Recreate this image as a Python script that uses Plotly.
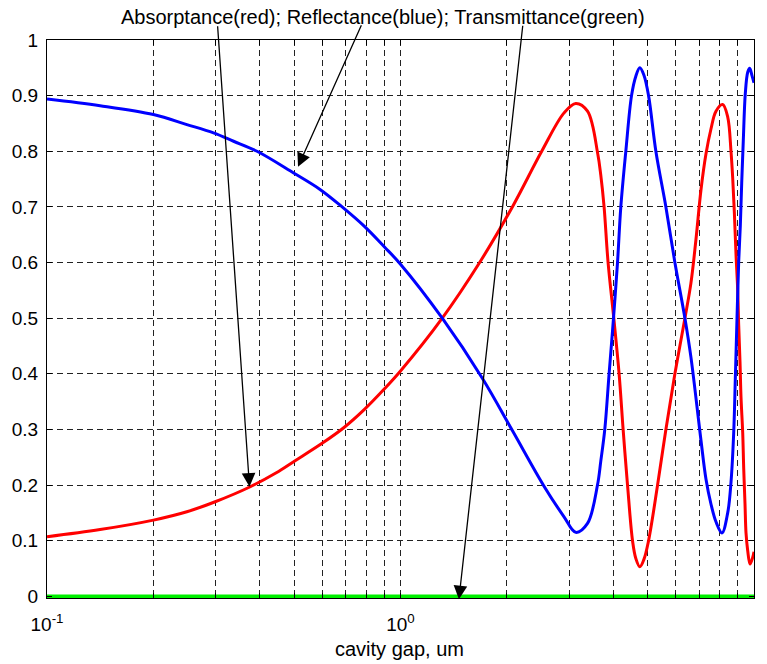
import math
import plotly.graph_objects as go

# ---- data ----
refl_gap = [0.1000, 0.1413, 0.2000, 0.2487, 0.2958, 0.3371, 0.3927, 0.4985, 0.5934, 0.6837,
            0.7907, 0.9009, 1.0000, 1.3126, 1.7041, 2.0724, 2.5466, 2.9013, 3.1315, 3.3808,
            3.6077, 3.6862, 3.7836, 3.8912, 4.0045, 4.1104, 4.2000, 4.3392, 4.5036, 4.6317,
            4.7541, 4.8798, 5.0315, 5.2773, 5.6333, 5.9734, 6.3764, 6.6310, 7.0777, 7.3124,
            7.5551, 7.8058, 8.1175, 8.4251, 8.6084, 8.7613, 8.8533, 8.9519, 9.0517, 9.1466,
            9.2305, 9.3273, 9.4497, 9.5988, 9.7248, 9.8703, 10.000]
refl = [0.894, 0.882, 0.866, 0.848, 0.833, 0.818, 0.800, 0.761, 0.731, 0.700,
        0.665, 0.628, 0.597, 0.500, 0.392, 0.298, 0.198, 0.143, 0.115, 0.131,
        0.200, 0.243, 0.300, 0.400, 0.500, 0.600, 0.700, 0.800, 0.900, 0.935,
        0.950, 0.937, 0.900, 0.800, 0.700, 0.600, 0.500, 0.430, 0.281, 0.211,
        0.166, 0.134, 0.114, 0.150, 0.205, 0.294, 0.390, 0.499, 0.602, 0.666,
        0.743, 0.820, 0.904, 0.942, 0.949, 0.936, 0.923]

abs_gap = [0.1000, 0.1413, 0.2000, 0.2487, 0.2991, 0.3759, 0.4453, 0.4985, 0.6001, 0.6909,
           0.7907, 0.9009, 1.0000, 1.3126, 1.6744, 2.0724, 2.5087, 2.9013, 3.1315, 3.3808,
           3.6148, 3.6862, 3.7664, 3.8659, 4.0124, 4.1535, 4.2635, 4.3876, 4.5330, 4.6317,
           4.7541, 4.8798, 5.0315, 5.3362, 5.6333, 5.9734, 6.3764, 6.6310, 6.8507, 7.0777,
           7.3124, 7.5551, 7.8058, 8.1545, 8.4251, 8.6084, 8.7044, 8.7956, 8.8937, 8.9928,
           9.0517, 9.1287, 9.1884, 9.2909, 9.3517, 9.4313, 9.4931, 9.5988, 9.7439, 9.9156,
           10.000]
absorb = [0.107, 0.120, 0.137, 0.152, 0.170, 0.197, 0.222, 0.242, 0.275, 0.303,
          0.336, 0.373, 0.405, 0.500, 0.600, 0.700, 0.800, 0.869, 0.886, 0.872,
          0.795, 0.757, 0.700, 0.600, 0.500, 0.400, 0.300, 0.200, 0.100, 0.068,
          0.053, 0.066, 0.100, 0.200, 0.300, 0.400, 0.500, 0.563, 0.641, 0.730,
          0.795, 0.840, 0.872, 0.884, 0.862, 0.800, 0.752, 0.692, 0.615, 0.551,
          0.487, 0.422, 0.358, 0.294, 0.230, 0.166, 0.114, 0.082, 0.058, 0.070,
          0.080]

trans_gap = [0.1, 10.0]
trans = [0.0, 0.0]

x_tick_vals = [0.1, 0.2, 0.3, 0.4, 0.5, 0.6, 0.7, 0.8, 0.9,
               1, 2, 3, 4, 5, 6, 7, 8, 9, 10]
x_tick_text = ["10<sup>-1</sup>", "", "", "", "", "", "", "", "",
               "10<sup>0</sup>", "", "", "", "", "", "", "", "", "10<sup>1</sup>"]
y_tick_vals = [0, 0.1, 0.2, 0.3, 0.4, 0.5, 0.6, 0.7, 0.8, 0.9, 1]
y_tick_text = ["0", "0.1", "0.2", "0.3", "0.4", "0.5", "0.6", "0.7", "0.8", "0.9", "1"]

title_text = "Absorptance(red); Reflectance(blue); Transmittance(green)"
x_title = "cavity gap, um"

FONT = "Liberation Sans, Arial, Helvetica, sans-serif"

fig = go.Figure()
fig.add_trace(go.Scatter(x=abs_gap, y=absorb, mode="lines",
                         line=dict(color="#ff0000", width=3, shape="spline", smoothing=1.0),
                         showlegend=False))
fig.add_trace(go.Scatter(x=refl_gap, y=refl, mode="lines",
                         line=dict(color="#0000ff", width=3, shape="spline", smoothing=1.0),
                         showlegend=False))
fig.add_trace(go.Scatter(x=trans_gap, y=trans, mode="lines",
                         line=dict(color="#00f000", width=3.5),
                         showlegend=False))

ML, MR, MT, MB = 47, 13, 40, 66
W, H = 767, 664

def px_to_paper(px, py):
    return (px - ML) / (W - ML - MR), (H - MB - py) / (H - MT - MB)

arrow_common = dict(showarrow=True, arrowhead=2, arrowsize=2.1, arrowwidth=1.3,
                    arrowcolor="black", axref="pixel", ayref="pixel", text="")

annotations = [
    dict(x=math.log10(0.374), y=0.197, xref="x", yref="y", ax=-32, ay=-462, **arrow_common),
    dict(x=math.log10(0.513), y=0.772, xref="x", yref="y", ax=64, ay=-143, **arrow_common),
    dict(x=math.log10(1.463), y=px_to_paper(0, 599.3)[1], xref="x", yref="paper",
         ax=64, ay=-575, **arrow_common),
    dict(x=px_to_paper(383, 0)[0], y=px_to_paper(0, 17)[1], xref="paper", yref="paper",
         text=title_text, showarrow=False, xanchor="center", yanchor="middle",
         font=dict(family=FONT, size=20, color="black")),
    dict(x=px_to_paper(399, 0)[0], y=px_to_paper(0, 649)[1], xref="paper", yref="paper",
         text=x_title, showarrow=False, xanchor="center", yanchor="middle",
         font=dict(family=FONT, size=20, color="black")),
]

grid_common = dict(showgrid=True, gridcolor="#222222", gridwidth=1, griddash="6px,4px",
                   showline=True, linecolor="black", linewidth=1, mirror="ticks",
                   ticks="inside", ticklen=5, tickcolor="black", zeroline=False,
                   automargin=False,
                   tickfont=dict(family=FONT, size=19, color="black"))

fig.update_layout(
    width=W, height=H,
    margin=dict(l=ML, r=MR, t=MT, b=MB, pad=0, autoexpand=False),
    paper_bgcolor="white", plot_bgcolor="white",
    font=dict(family=FONT, size=19, color="black"),
    xaxis=dict(type="log", range=[-1, 1], tickvals=x_tick_vals, ticktext=x_tick_text,
               ticklabelstandoff=9, **grid_common),
    yaxis=dict(range=[-0.003, 1.0], tickvals=y_tick_vals, ticktext=y_tick_text,
               ticklabelstandoff=4, **grid_common),
    annotations=annotations,
    showlegend=False,
)

fig.write_html("out.html")
